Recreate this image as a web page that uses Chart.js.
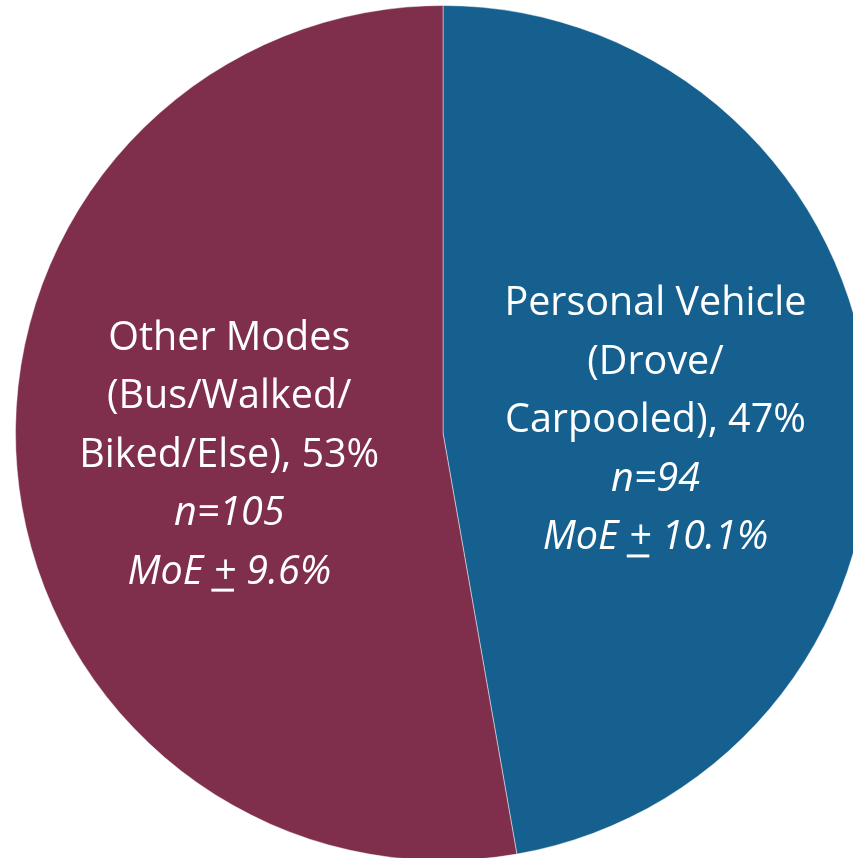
<!DOCTYPE html>
<html>
<head>
<meta charset="utf-8">
<script src="https://cdn.jsdelivr.net/npm/chart.js@4.4.1/dist/chart.umd.min.js"></script>
<style>
  html, body { margin: 0; padding: 0; background: #fff; overflow: hidden; width: 853px; height: 858px; }
  #wrap { position: absolute; left: 15px; top: 5px; width: 856px; height: 856px; }
</style>
</head>
<body>
<div id="wrap"><canvas id="myChart"></canvas></div>
<script>
const categories = ['Personal Vehicle (Drove/Carpooled)', 'Other Modes (Bus/Walked/Biked/Else)']
const sampleSizes = [94, 105]
const percents = ['47%', '53%']
const margins = ['10.1%', '9.6%']
const labelLines = [
    ['Personal Vehicle', '(Drove/', 'Carpooled), ' + percents[0]],
    ['Other Modes', '(Bus/Walked/', 'Biked/Else), ' + percents[1]]
]
const colors = ['#15608f', '#7f2f4c']

const ctx = document.getElementById('myChart')

// label spot for each slice, as a fraction of the radius from the centre
const labelSpots = [[0.497, -0.275], [-0.5, -0.195]]

const sliceLabels = {
    id: 'sliceLabels',
    afterDraw(chart) {
        const c = chart.ctx
        const meta = chart.getDatasetMeta(0)
        const font = '"Open Sans", Lato, sans-serif'
        const size = 39.5
        const step = 58.5
        c.save()
        c.fillStyle = '#fff'
        c.textAlign = 'center'
        c.textBaseline = 'alphabetic'
        meta.data.forEach((arc, i) => {
            const x = arc.x + labelSpots[i][0] * arc.outerRadius
            let y = arc.y + labelSpots[i][1] * arc.outerRadius
            c.font = size + 'px ' + font
            labelLines[i].forEach(line => {
                c.fillText(line, x, y)
                y += step
            })
            c.font = 'italic ' + size + 'px ' + font
            c.fillText('n=' + sampleSizes[i], x, y)
            y += step
            // MoE line with underlined plus sign
            const a = 'MoE ', p = '+', b = ' ' + margins[i]
            const wa = c.measureText(a).width
            const wp = c.measureText(p).width
            const wb = c.measureText(b).width
            let left = x - (wa + wp + wb) / 2
            c.textAlign = 'left'
            c.fillText(a, left, y)
            c.fillText(p, left + wa, y)
            c.fillText(b, left + wa + wp, y)
            c.fillRect(left + wa - 2, y + 5, wp, 3)
            c.textAlign = 'center'
        })
        c.restore()
    }
}

new Chart(ctx, {
    type: 'pie',
    data: {
        labels: categories,
        datasets: [{
            data: sampleSizes,
            backgroundColor: colors,
            borderColor: 'rgba(255,255,255,0.45)',
            borderWidth: 1
        }]
    },
    options: {
        responsive: true,
        maintainAspectRatio: false,
        animation: false,
        layout: { padding: 0 },
        plugins: {
            legend: { display: false },
            tooltip: { enabled: false }
        }
    },
    plugins: [sliceLabels]
})
</script>
</body>
</html>
